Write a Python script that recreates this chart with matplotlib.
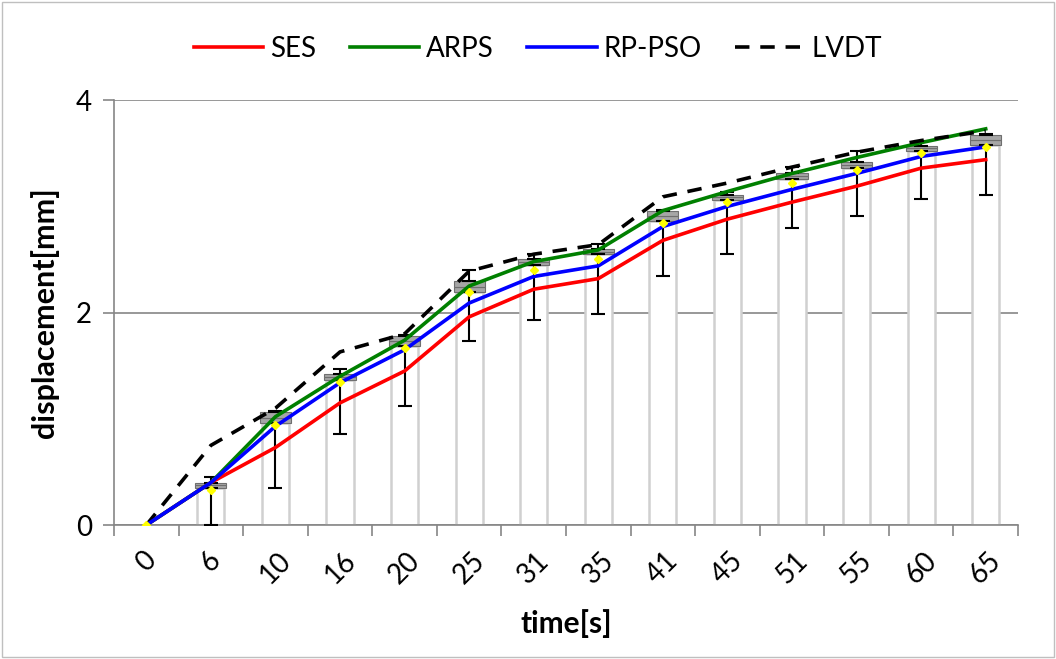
import numpy as np
import matplotlib.pyplot as plt
from matplotlib.patches import Rectangle

plt.rcParams['font.family'] = ['Lato', 'DejaVu Sans']

times = ["0", "6", "10", "16", "20", "25", "31", "35", "41", "45", "51", "55", "60", "65"]

ses = [0, 0.40, 0.73, 1.15, 1.45, 1.96, 2.22, 2.32, 2.68, 2.88, 3.04, 3.19, 3.36, 3.44]
arps = [0, 0.40, 1.02, 1.40, 1.74, 2.25, 2.48, 2.59, 2.96, 3.14, 3.31, 3.46, 3.60, 3.73]
rppso = [0, 0.40, 0.93, 1.34, 1.65, 2.09, 2.34, 2.44, 2.81, 3.00, 3.16, 3.31, 3.47, 3.56]
lvdt = [0, 0.75, 1.10, 1.63, 1.80, 2.39, 2.55, 2.64, 3.09, 3.22, 3.37, 3.51, 3.62, 3.71]

# box statistics per time step
box_low = [0, 0.35, 0.96, 1.37, 1.69, 2.19, 2.45, 2.55, 2.86, 3.06, 3.26, 3.36, 3.52, 3.58]
box_high = [0, 0.40, 1.06, 1.42, 1.78, 2.30, 2.50, 2.60, 2.96, 3.11, 3.31, 3.42, 3.57, 3.67]
whisk_min = [0, 0.0, 0.35, 0.86, 1.12, 1.73, 1.93, 1.99, 2.34, 2.55, 2.80, 2.91, 3.07, 3.11]
whisk_max = [0, 0.45, 1.07, 1.47, 1.79, 2.40, 2.55, 2.65, 2.97, 3.14, 3.37, 3.52, 3.62, 3.68]
means = [0, 0.33, 0.94, 1.35, 1.67, 2.19, 2.40, 2.50, 2.84, 3.04, 3.22, 3.34, 3.50, 3.56]

x = np.arange(len(times))
lo = np.array(box_low)
hi = np.array(box_high)
med = (lo + hi) / 2

fig = plt.figure(figsize=(10.56, 6.59), dpi=100)
ax = fig.add_axes([0.108, 0.2033, 0.856, 0.6447])

gray = "#868686"
w = 0.42
# white "shadow" bars up to the box
ax.bar(x[1:], lo[1:], width=w, color="white", edgecolor="#d0d0d0", linewidth=1.8, zorder=1)
# grey boxes
ax.bar(x[1:], (med - lo)[1:], bottom=lo[1:], width=w * 1.15, color="#a6a6a6",
       edgecolor="#6f6f6f", linewidth=0.8, zorder=2)
ax.bar(x[1:], (hi - med)[1:], bottom=med[1:], width=w * 1.15, color="#a6a6a6",
       edgecolor="#6f6f6f", linewidth=0.8, zorder=2)
# whiskers
yerr = [lo - np.array(whisk_min), np.array(whisk_max) - hi]
ax.errorbar(x[1:], lo[1:], yerr=[yerr[0][1:], np.zeros(len(x) - 1)], fmt="none",
            ecolor="black", elinewidth=1.5, capsize=5, capthick=1.5, zorder=3)
ax.errorbar(x[1:], hi[1:], yerr=[np.zeros(len(x) - 1), yerr[1][1:]], fmt="none",
            ecolor="black", elinewidth=1.5, capsize=5, capthick=1.5, zorder=3)

ax.plot(x, ses, color="#ff0000", lw=2.6, label="SES", zorder=4)
ax.plot(x, arps, color="#008000", lw=2.6, label="ARPS", zorder=4)
ax.plot(x, rppso, color="#0000ff", lw=2.6, label="RP-PSO", zorder=5)
ax.plot(x, lvdt, color="black", lw=2.6, ls=(0, (4, 3)), label="LVDT", zorder=4)
ax.plot(x, means, ls="none", marker="D", ms=4.5, color="#ffff00", zorder=6)

ax.set_xlim(-0.5, len(times) - 0.5)
ax.set_ylim(0, 4)
ax.set_yticks([0, 2, 4])
ax.set_yticklabels(["0", "2", "4"], fontsize=20)
ax.grid(axis="y", color=gray, lw=1.2)
ax.set_axisbelow(True)

ax.set_xticks(x)
ax.set_xticklabels(times, fontsize=20, rotation=45, ha="center", va="top")
ax.set_xticks(np.arange(-0.5, len(times)), minor=True)
ax.tick_params(axis="x", which="major", length=0, pad=16)
ax.tick_params(axis="x", which="minor", length=8, color=gray, width=1.2)
ax.tick_params(axis="y", length=8, color=gray, width=1.2, pad=8)

for s in ["top", "right"]:
    ax.spines[s].set_visible(False)
for s in ["left", "bottom"]:
    ax.spines[s].set_color(gray)
    ax.spines[s].set_linewidth(1.2)

ax.set_xlabel("time[s]", fontsize=21.5, fontweight="bold", labelpad=15)
ax.set_ylabel("displacement[mm]", fontsize=22, fontweight="bold", labelpad=12)

ax.legend(loc="center", bbox_to_anchor=(0.469, 1.12), ncol=4, frameon=False,
          fontsize=20, handlelength=2.5, columnspacing=1.2, handletextpad=0.25)

fig.patches.append(Rectangle((0.002, 0.003), 0.996, 0.994, transform=fig.transFigure,
                             fill=False, edgecolor="#bfbfbf", lw=1))

plt.savefig("out.png", dpi=100)
